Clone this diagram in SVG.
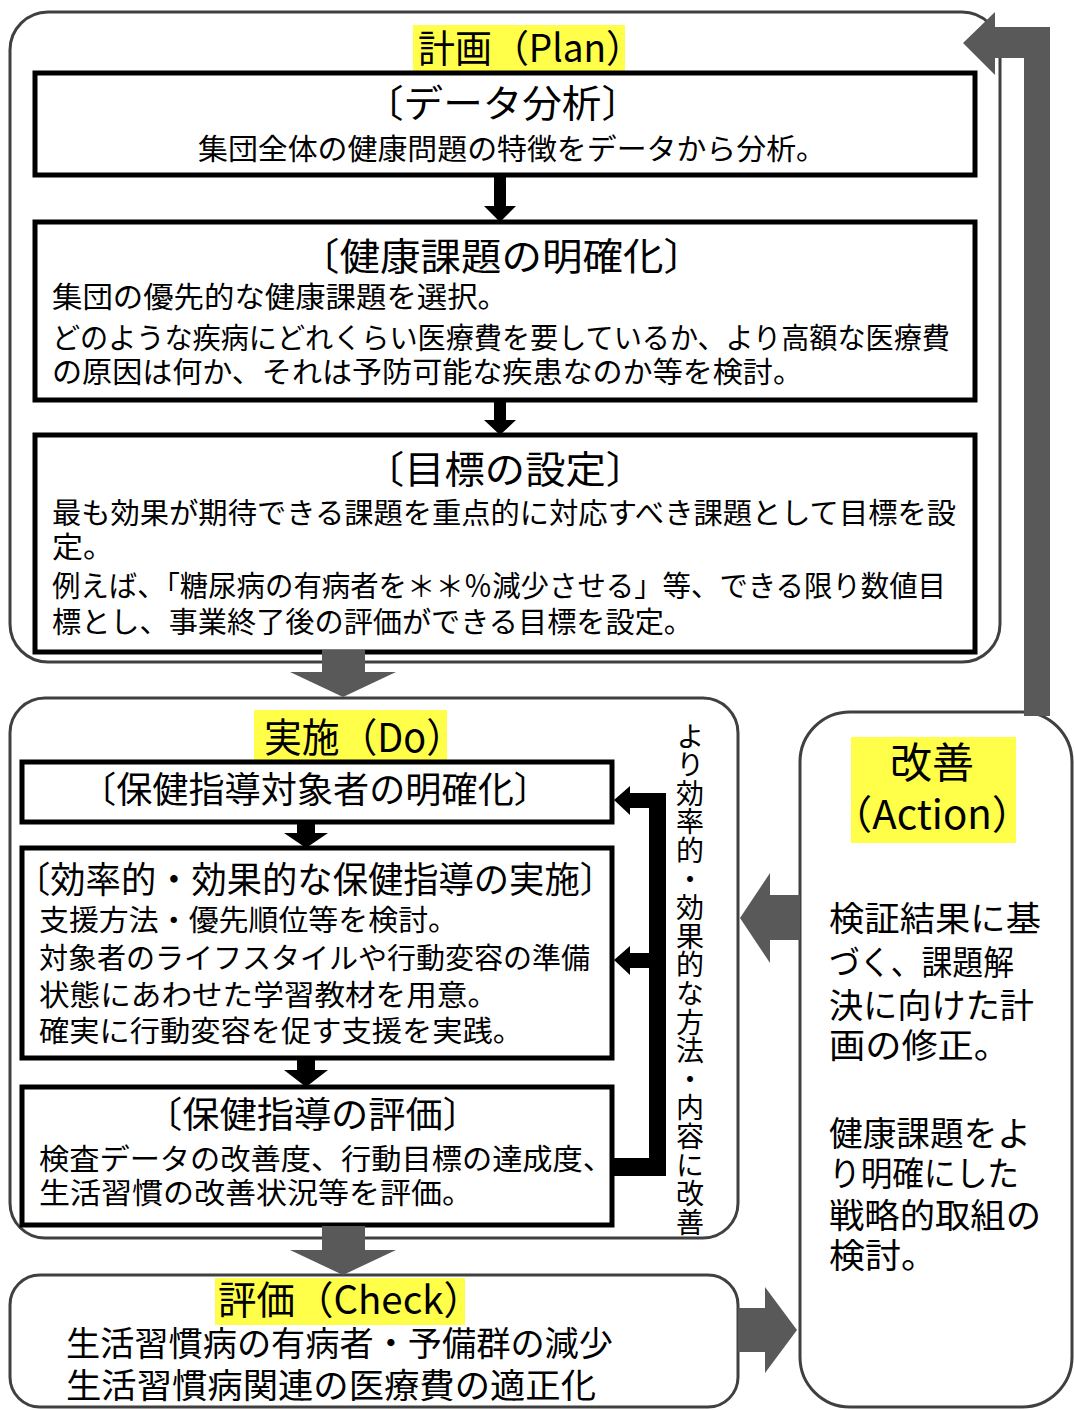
<svg xmlns="http://www.w3.org/2000/svg" width="1074" height="1410" viewBox="0 0 1074 1410">
<style>
text{font-family:"Noto Sans CJK JP","Noto Sans",sans-serif;fill:#000}
.outer{fill:#fff;stroke:#404040;stroke-width:3}
.box{fill:#fff;stroke:#000;stroke-width:5}
.hl{fill:#ffff4a}
.b{font-size:29px}
.t{font-size:38px}
.st{font-size:36px}
.a{font-size:34px}
.grey{fill:#595959}
.blk{fill:#000}
</style>
<defs>
<clipPath id="vclip"><rect x="660" y="700" width="60" height="536"/></clipPath>
</defs>
<rect width="1074" height="1410" fill="#fff"/>

<g id="plan">
<rect class="outer" x="10" y="12" width="990" height="650" rx="38"/>
<rect class="hl" x="413" y="25" width="212" height="46"/>
<text class="t" x="418" y="62" textLength="225" lengthAdjust="spacingAndGlyphs">計画（Plan）</text>
</g>

<g id="data-analysis">
<rect class="box" x="35" y="73" width="940" height="102"/>
<text class="t" x="364" y="117" textLength="277" lengthAdjust="spacingAndGlyphs">〔データ分析〕</text>
<text class="b" x="198" y="160" textLength="628" lengthAdjust="spacingAndGlyphs">集団全体の健康問題の特徴をデータから分析。</text>
</g>

<g id="health-issue">
<rect class="box" x="35" y="222" width="940" height="178"/>
<text class="t" x="299" y="270" textLength="405" lengthAdjust="spacingAndGlyphs">〔健康課題の明確化〕</text>
<text class="b" x="52" y="308" textLength="456" lengthAdjust="spacingAndGlyphs">集団の優先的な健康課題を選択。</text>
<text class="b" x="52" y="349" textLength="898" lengthAdjust="spacingAndGlyphs">どのような疾病にどれくらい医療費を要しているか、より高額な医療費</text>
<text class="b" x="52" y="383" textLength="751" lengthAdjust="spacingAndGlyphs">の原因は何か、それは予防可能な疾患なのか等を検討。</text>
</g>

<g id="goal">
<rect class="box" x="35" y="435" width="940" height="217"/>
<text class="t" x="364" y="483" textLength="282" lengthAdjust="spacingAndGlyphs">〔目標の設定〕</text>
<text class="b" x="52" y="524" textLength="904" lengthAdjust="spacingAndGlyphs">最も効果が期待できる課題を重点的に対応すべき課題として目標を設</text>
<text class="b" x="52" y="558" textLength="62" lengthAdjust="spacingAndGlyphs">定。</text>
<text class="b" x="52" y="597" textLength="894" lengthAdjust="spacingAndGlyphs">例えば、「糖尿病の有病者を＊＊％減少させる」等、できる限り数値目</text>
<text class="b" x="52" y="633" textLength="641" lengthAdjust="spacingAndGlyphs">標とし、事業終了後の評価ができる目標を設定。</text>
</g>

<g id="do">
<rect class="outer" x="10" y="698" width="728" height="540" rx="35"/>
<rect class="hl" x="254" y="710" width="193" height="50"/>
<text class="t" x="264" y="752" textLength="200" lengthAdjust="spacingAndGlyphs" style="font-size:40px">実施（Do）</text>
<text clip-path="url(#vclip)" x="690" y="722" style="font-size:28px;writing-mode:vertical-rl;letter-spacing:0.6px">より効率的・効果的な方法・内容に改善</text>
</g>

<g id="target">
<rect class="box" x="22" y="762" width="590" height="60"/>
<text class="st" x="80" y="803" textLength="470" lengthAdjust="spacingAndGlyphs">〔保健指導対象者の明確化〕</text>
</g>

<g id="implementation">
<rect class="box" x="22" y="848" width="590" height="210"/>
<text class="st" x="15" y="893" textLength="600" lengthAdjust="spacingAndGlyphs">〔効率的・効果的な保健指導の実施〕</text>
<text class="b" x="39" y="931" textLength="419" lengthAdjust="spacingAndGlyphs">支援方法・優先順位等を検討。</text>
<text class="b" x="39" y="969" textLength="551" lengthAdjust="spacingAndGlyphs">対象者のライフスタイルや行動変容の準備</text>
<text class="b" x="39" y="1006" textLength="459" lengthAdjust="spacingAndGlyphs">状態にあわせた学習教材を用意。</text>
<text class="b" x="39" y="1042" textLength="484" lengthAdjust="spacingAndGlyphs">確実に行動変容を促す支援を実践。</text>
</g>

<g id="evaluation">
<rect class="box" x="22" y="1087" width="590" height="138"/>
<text class="st" x="145" y="1128" textLength="335" lengthAdjust="spacingAndGlyphs">〔保健指導の評価〕</text>
<text class="b" x="39" y="1170" textLength="574" lengthAdjust="spacingAndGlyphs">検査データの改善度、行動目標の達成度、</text>
<text class="b" x="39" y="1204" textLength="434" lengthAdjust="spacingAndGlyphs">生活習慣の改善状況等を評価。</text>
</g>

<g id="check">
<rect class="outer" x="10" y="1275" width="728" height="132" rx="30"/>
<rect class="hl" x="215" y="1278" width="250" height="47"/>
<text class="t" x="218" y="1314" textLength="264" lengthAdjust="spacingAndGlyphs" style="font-size:39px">評価（Check）</text>
<text class="a" x="66" y="1356" textLength="547" lengthAdjust="spacingAndGlyphs">生活習慣病の有病者・予備群の減少</text>
<text class="a" x="66" y="1398" textLength="530" lengthAdjust="spacingAndGlyphs">生活習慣病関連の医療費の適正化</text>
</g>

<g id="action">
<rect class="outer" x="800" y="712" width="272" height="695" rx="50"/>
<rect class="hl" x="851" y="737" width="165" height="106"/>
<text x="932" y="778" text-anchor="middle" style="font-size:42px">改善</text>
<text x="932" y="829" text-anchor="middle" textLength="200" lengthAdjust="spacingAndGlyphs" style="font-size:40px">（Action）</text>
<text class="a" x="829" y="931" textLength="212" lengthAdjust="spacingAndGlyphs">検証結果に基</text>
<text class="a" x="829" y="975" textLength="185" lengthAdjust="spacingAndGlyphs">づく、課題解</text>
<text class="a" x="829" y="1018" textLength="205" lengthAdjust="spacingAndGlyphs">決に向けた計</text>
<text class="a" x="829" y="1058" textLength="181" lengthAdjust="spacingAndGlyphs">画の修正。</text>
<text class="a" x="829" y="1146" textLength="202" lengthAdjust="spacingAndGlyphs">健康課題をよ</text>
<text class="a" x="829" y="1186" textLength="190" lengthAdjust="spacingAndGlyphs">り明確にした</text>
<text class="a" x="829" y="1228" textLength="212" lengthAdjust="spacingAndGlyphs">戦略的取組の</text>
<text class="a" x="829" y="1268" textLength="108" lengthAdjust="spacingAndGlyphs">検討。</text>
</g>

<g id="connectors">
<polygon class="blk" points="494,175 506,175 506,206 516,206 500,222 484,206 494,206"/>
<polygon class="blk" points="494,400 506,400 506,420 516,420 500,435 484,420 494,420"/>
<polygon class="blk" points="297,822 315,822 315,833 328,833 306,848 284,833 297,833"/>
<polygon class="blk" points="297,1058 315,1058 315,1070 328,1070 306,1087 284,1070 297,1070"/>
<polygon class="blk" points="612,1158 649,1158 649,968 630,968 630,975 614,960 630,946 630,953 649,953 649,808 630,808 630,815 614,800 630,786 630,793 666,793 666,1176 612,1176"/>
<polygon class="grey" points="322,650 365,650 365,672 396,672 343,697 290,672 322,672"/>
<polygon class="grey" points="322,1226 365,1226 365,1250 396,1250 343,1275 290,1250 322,1250"/>
<polygon class="grey" points="800,895 770,895 770,873 740,918 770,963 770,940 800,940"/>
<polygon class="grey" points="738,1308 765,1308 765,1287 797,1330 765,1373 765,1352 738,1352"/>
<polygon class="grey" points="1024,716 1024,58 995,58 995,75 963,43 995,12 995,27 1050,27 1050,716"/>
</g>
</svg>
